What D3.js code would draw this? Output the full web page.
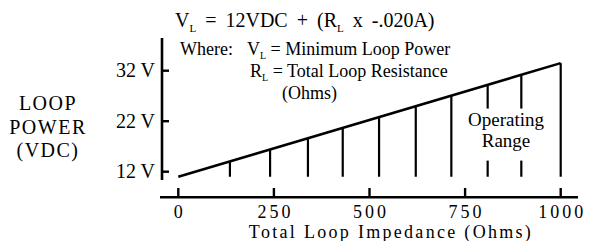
<!DOCTYPE html>
<html>
<head>
<meta charset="utf-8">
<script src="https://cdn.jsdelivr.net/npm/d3@7"></script>
<style>
  body { margin: 0; background: #fff; }
  svg { display: block; }
</style>
</head>
<body>
<svg id="chart"></svg>
<script>
// values
var xTicks = [0, 250, 500, 750, 1000];
var yTicks = [12, 22, 32];
var yTickLabels = ["12 V", "22 V", "32 V"];
var loadLine = [{r: 0, v: 11.0}, {r: 1000, v: 33.5}];
var baseV = 11.0;
var hatchR = [135, 240, 339, 430, 525, 621, 714, 809, 897, 1000];
var gapR = [809, 897];           // hatches cut for the "Operating Range" text
var gapV = [24.5, 14.2];         // gap top / bottom in volts
var yLabel = ["LOOP", "POWER", "(VDC)"];

var width = 596, height = 241;
var serif = "'Liberation Serif'";

var svg = d3.select("#chart")
  .attr("width", width)
  .attr("height", height);

var x = d3.scaleLinear().domain([0, 1000]).range([178.3, 560.7]);
var y = d3.scaleLinear().domain([12, 32]).range([171.7, 70.7]);

var vAt = d3.scaleLinear()
  .domain(loadLine.map(function(d) { return d.r; }))
  .range(loadLine.map(function(d) { return d.v; }));

// axes
svg.append("line")
  .attr("x1", 162).attr("x2", 162)
  .attr("y1", 38).attr("y2", 180)
  .attr("stroke", "#000").attr("stroke-width", 2.6);

svg.append("line")
  .attr("x1", 160).attr("x2", 578)
  .attr("y1", 197.3).attr("y2", 197.3)
  .attr("stroke", "#000").attr("stroke-width", 2.6);

svg.selectAll(".ytick").data(yTicks).enter().append("line")
  .attr("class", "ytick")
  .attr("x1", 162).attr("x2", 169)
  .attr("y1", function(d) { return y(d); })
  .attr("y2", function(d) { return y(d); })
  .attr("stroke", "#000").attr("stroke-width", 2.4);

svg.selectAll(".ylab").data(yTicks).enter().append("text")
  .attr("class", "ylab")
  .attr("x", 155)
  .attr("y", function(d) { return y(d) + 6.5; })
  .attr("text-anchor", "end")
  .attr("font-size", 20)
  .text(function(d, i) { return yTickLabels[i]; });

svg.selectAll(".xtick").data(xTicks).enter().append("line")
  .attr("class", "xtick")
  .attr("x1", function(d) { return x(d); })
  .attr("x2", function(d) { return x(d); })
  .attr("y1", 188).attr("y2", 197.3)
  .attr("stroke", "#000").attr("stroke-width", 2.4);

svg.selectAll(".xlab").data(xTicks).enter().append("text")
  .attr("class", "xlab")
  .attr("x", function(d) { return x(d) + 1.5; })
  .attr("y", 218)
  .attr("text-anchor", "middle")
  .attr("font-size", 18)
  .attr("letter-spacing", 3)
  .text(function(d) { return d; });

svg.append("text")
  .attr("x", 391).attr("y", 238)
  .attr("text-anchor", "middle")
  .attr("font-size", 18)
  .attr("letter-spacing", 2.3)
  .text("Total Loop Impedance (Ohms)");

// hatching
hatchR.forEach(function(r) {
  var top = y(vAt(r)), bot = y(baseV);
  if (gapR.indexOf(r) >= 0) {
    svg.append("line")
      .attr("x1", x(r)).attr("x2", x(r))
      .attr("y1", top).attr("y2", y(gapV[0]))
      .attr("stroke", "#000").attr("stroke-width", 2.2);
    svg.append("line")
      .attr("x1", x(r)).attr("x2", x(r))
      .attr("y1", y(gapV[1])).attr("y2", bot)
      .attr("stroke", "#000").attr("stroke-width", 2.2);
  } else {
    svg.append("line")
      .attr("x1", x(r)).attr("x2", x(r))
      .attr("y1", top).attr("y2", bot)
      .attr("stroke", "#000").attr("stroke-width", 2.2);
  }
});

svg.append("path")
  .datum(loadLine)
  .attr("d", d3.line()
    .x(function(d) { return x(d.r); })
    .y(function(d) { return y(d.v); }))
  .attr("fill", "none")
  .attr("stroke", "#000")
  .attr("stroke-width", 2.6);

// Operating Range
svg.append("text")
  .attr("x", 506).attr("y", 126)
  .attr("text-anchor", "middle")
  .attr("font-size", 19)
  .text("Operating");
svg.append("text")
  .attr("x", 506).attr("y", 147)
  .attr("text-anchor", "middle")
  .attr("font-size", 19)
  .text("Range");

// left label
svg.selectAll(".lab").data(yLabel).enter().append("text")
  .attr("class", "lab")
  .attr("x", 48)
  .attr("y", function(d, i) { return 110 + i * 23.5; })
  .attr("text-anchor", "middle")
  .attr("font-size", 20)
  .attr("letter-spacing", 1.5)
  .text(function(d) { return d; });

// formula
var f = svg.append("text")
  .attr("x", 175).attr("y", 27)
  .attr("font-size", 20)
  .attr("word-spacing", 4);
f.append("tspan").text("V");
f.append("tspan").attr("dy", 5).attr("font-size", 11).text("L");
f.append("tspan").attr("dy", -5).text(" = 12VDC + (R");
f.append("tspan").attr("dy", 5).attr("font-size", 11).text("L");
f.append("tspan").attr("dy", -5).text(" x -.020A)");

svg.append("text")
  .attr("x", 180).attr("y", 55)
  .attr("font-size", 18)
  .text("Where:");

var w1 = svg.append("text")
  .attr("x", 247).attr("y", 55)
  .attr("font-size", 18);
w1.append("tspan").text("V");
w1.append("tspan").attr("dy", 4).attr("font-size", 10).text("L");
w1.append("tspan").attr("dy", -4).text(" = Minimum Loop Power");

var w2 = svg.append("text")
  .attr("x", 250).attr("y", 77)
  .attr("font-size", 18);
w2.append("tspan").text("R");
w2.append("tspan").attr("dy", 4).attr("font-size", 10).text("L");
w2.append("tspan").attr("dy", -4).text(" = Total Loop Resistance");

svg.append("text")
  .attr("x", 282).attr("y", 99)
  .attr("font-size", 18)
  .text("(Ohms)");

svg.selectAll("text").attr("font-family", serif).attr("fill", "#000");
</script>
</body>
</html>
